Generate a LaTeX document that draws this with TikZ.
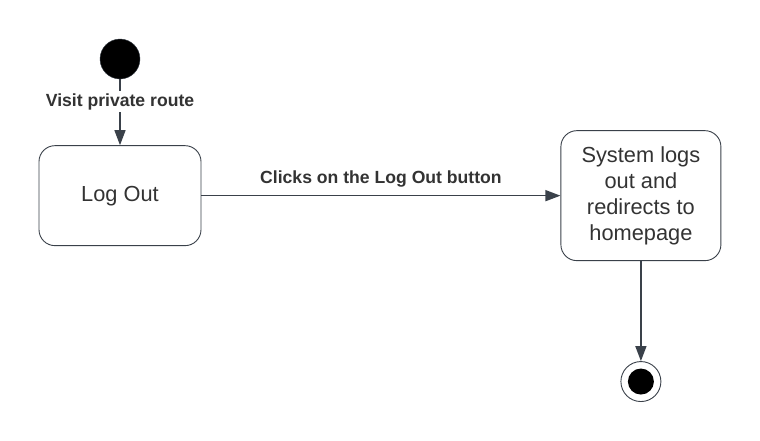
\documentclass[tikz,border=0pt]{standalone}
\usepackage{fontspec}
\setmainfont{Liberation Sans}
\usetikzlibrary{arrows.meta,positioning}

\definecolor{edgegray}{HTML}{3A414A}
\definecolor{textgray}{HTML}{333333}

\begin{document}
\begin{tikzpicture}[
    x=1pt, y=-1pt,
    state/.style={rectangle, rounded corners=16pt, draw=edgegray, line width=0.9pt, text=textgray, font=\fontsize{21.8}{26}\selectfont, align=center, inner sep=0pt},
    initial/.style={circle, fill=black, draw=edgegray, minimum size=40pt, inner sep=0pt},
    line/.style={draw=edgegray, -{Triangle[length=15pt,width=11pt]}, line width=1.4pt},
    guard/.style={font=\bfseries\fontsize{17.6}{21}\selectfont, text=textgray},
    node distance=66pt
]
\useasboundingbox (0,0) rectangle (760,440);

% Define nodes
\node[initial] (start) at (120,59) {};
\node[state, below=of start, minimum width=162pt, minimum height=100pt] (logout) {Log Out};
\node[state, right=359pt of logout, minimum width=160pt, minimum height=130pt] (redirect) {System logs\\out and\\redirects to\\homepage};
\node[circle, draw=edgegray, line width=0.9pt, minimum size=40pt, inner sep=0pt, below=100pt of redirect] (final) {};
\node[circle, fill=black, minimum size=26pt, inner sep=0pt] (finaldot) at (final) {};

% Connect nodes
\draw [line] (start) -- node[guard, pos=0.34, fill=white, inner sep=2pt] {Visit private route} (logout);
\draw [line] (logout) -- node[guard, above=4pt] {Clicks on the Log Out button} (redirect);
\draw [line] (redirect) -- (final);

\end{tikzpicture}
\end{document}
